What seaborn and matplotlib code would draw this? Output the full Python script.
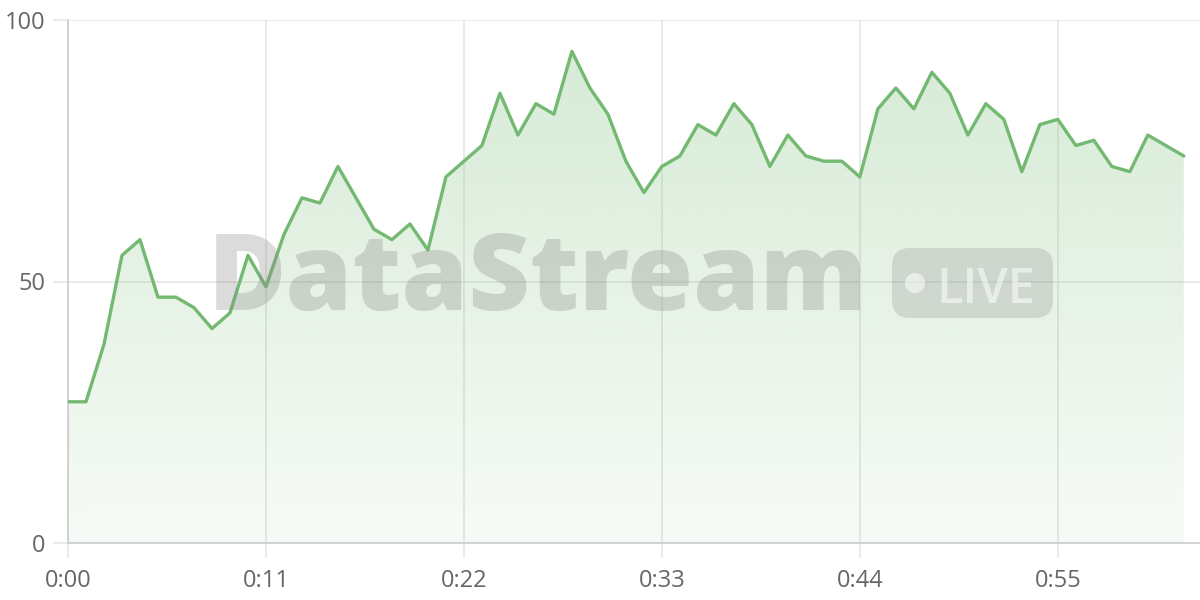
import numpy as np
import pandas as pd
import seaborn as sns
import matplotlib.pyplot as plt
from matplotlib.patches import FancyBboxPatch, Circle
from matplotlib.transforms import IdentityTransform
from matplotlib.ticker import FuncFormatter, MultipleLocator

sns.set_theme(style="white")
plt.rcParams["font.family"] = ["Open Sans", "DejaVu Sans"]

# --------------------------
# Data (seconds 0..62)
# --------------------------
seconds = list(range(63))
values = [27, 27, 38, 55, 58, 47, 47, 45, 41, 44,
          55, 49, 59, 66, 65, 72, 66, 60, 58, 61,
          56, 70, 73, 76, 86, 78, 84, 82, 94, 87,
          82, 73, 67, 72, 74, 80, 78, 84, 80, 72,
          78, 74, 73, 73, 70, 83, 87, 83, 90, 86,
          78, 84, 81, 71, 80, 81, 76, 77, 72, 71,
          78, 76, 74]
y_ticks = [0, 50, 100]

df = pd.DataFrame({"t": seconds, "value": values})

line_color = "#74b972"
grid_color = "#e6e6e6"
axis_color = "#cccccc"
text_color = "#666666"

fig = plt.figure(figsize=(12, 6), dpi=100)
ax = fig.add_axes([68 / 1200, 57 / 600, 1 - 68 / 1200, (543 - 20) / 600])

# gradient fill under the line
poly = ax.fill_between(df["t"], df["value"], 0, facecolor="none", edgecolor="none")
grad = np.linspace(0.06, 0.30, 256).reshape(-1, 1)
rgba = np.zeros((256, 1, 4))
rgba[..., 0] = 0x74 / 255
rgba[..., 1] = 0xb9 / 255
rgba[..., 2] = 0x72 / 255
rgba[..., 3] = grad
im = ax.imshow(rgba, extent=[0, 62, 0, 100], origin="lower", aspect="auto", zorder=1)
im.set_clip_path(poly.get_paths()[0], transform=ax.transData)

sns.lineplot(data=df, x="t", y="value", ax=ax, color=line_color, linewidth=2.4, zorder=4)

# watermark (pixel positions, figure is 1200x600 at dpi 100)
px = IdentityTransform()
fig.text(208 / 1200, 290 / 600, "DataStream", fontsize=77, fontweight="heavy",
         color="#888888", alpha=0.3, va="baseline", ha="left", zorder=3)
pill = FancyBboxPatch((892, 282), 161, 70,
                      boxstyle="round,pad=0,rounding_size=18",
                      transform=px, facecolor="#888888", alpha=0.25,
                      edgecolor="none", zorder=3)
fig.add_artist(pill)
fig.add_artist(Circle((915, 317), 10, transform=px, facecolor="white",
                      alpha=0.55, edgecolor="none", zorder=3))
fig.text(986 / 1200, 297 / 600, "LIVE", fontsize=35, fontweight="semibold",
         color="white", alpha=0.55, va="baseline", ha="center", zorder=3)

ax.set_xlim(0, 62.9)
ax.set_ylim(0, 100)
ax.xaxis.set_major_locator(MultipleLocator(11))
ax.xaxis.set_major_formatter(FuncFormatter(lambda v, p: f"{int(v) // 60}:{int(v) % 60:02d}"))
ax.set_yticks(y_ticks)
ax.set_xlabel("")
ax.set_ylabel("")
ax.grid(True, color=grid_color, linewidth=1.2, zorder=0)
ax.set_axisbelow(True)

for side in ["top", "right"]:
    ax.spines[side].set_visible(False)
ax.spines["left"].set_color(axis_color)
ax.spines["bottom"].set_color(axis_color)
ax.spines["left"].set_linewidth(1.2)
ax.spines["bottom"].set_linewidth(1.2)

ax.tick_params(axis="both", length=11, width=1.2, color=grid_color,
               labelcolor=text_color, labelsize=17, pad=6)
ax.tick_params(axis="x", bottom=True, pad=8)
ax.tick_params(axis="y", left=True, pad=5)

fig.savefig("out.png", dpi=100)
